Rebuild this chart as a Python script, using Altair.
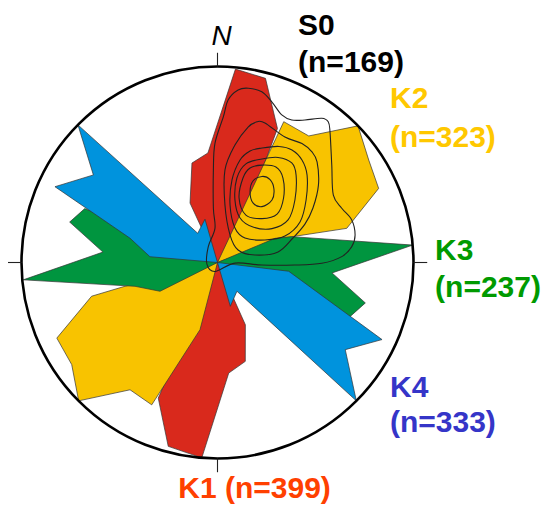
import math
import altair as alt
import pandas as pd

# ---- Rose petals: azimuth (deg, clockwise from N) and relative length (1 = circle) ----
# r = 0 entries close a lobe at the centre
K1_AZ = [0, 335.2, 345.6, 355.0, 5.3, 14.6, 24.1, 30.0, 0, 155.9, 164.3, 174.2, 184.6, 195.0, 203.6, 0]
K1_R  = [0, 0.334, 0.524, 0.561, 0.991, 0.971, 0.749, 0.30, 0, 0.348, 0.524, 0.567, 1.0, 0.971, 0.755, 0]

K2_AZ = [0, 25.2, 35.8, 45.8, 55.9, 65.3, 75.2, 70.0, 0, 194.6, 204.8, 214.5, 225.1, 235.0, 244.8, 255.0, 255.6, 0]
K2_R  = [0, 0.794, 0.796, 1.0, 0.932, 0.905, 0.682, 0.37, 0, 0.354, 0.80, 0.788, 1.0, 0.908, 0.906, 0.665, 0.487, 0]

K3_AZ = [0, 67.2, 70.8, 84.9, 95.2, 105.3, 112.1, 0, 243.4, 253.9, 264.9, 275.2, 285.3, 292.1, 0]
K3_R  = [0, 0.318, 0.401, 1.0, 0.587, 0.782, 0.731, 0, 0.328, 0.438, 0.995, 0.587, 0.782, 0.731, 0]

K4_AZ = [0, 97.0, 115.1, 124.3, 134.9, 145.9, 163.7, 0, 274.9, 285.5, 295.0, 305.2, 314.6, 325.9, 343.9, 0]
K4_R  = [0, 0.366, 0.927, 0.789, 1.0, 0.177, 0.233, 0, 0.346, 0.463, 0.915, 0.775, 1.0, 0.18, 0.23, 0]

SETS = ["K1", "K2", "K3", "K4"]
FILLS = ["#D9291C", "#F8C300", "#00953F", "#0093DD"]

# ---- S0 pole-density contours (stereonet x, y; radius = 1) ----
S0_C1 = [(.227, .439), (.268, .423), (.288, .375), (.278, .319), (.227, .285), (.181, .304), (.166, .361), (.181, .416)]
S0_C2 = [(.227, .497), (.298, .487), (.334, .431), (.337, .329), (.304, .247), (.227, .224), (.145, .242), (.110, .329),
         (.130, .431), (.166, .482)]
S0_C3 = [(.227, .528), (.309, .536), (.379, .508), (.401, .446), (.395, .319), (.360, .217), (.278, .173), (.181, .181),
         (.115, .227), (.089, .319), (.099, .431), (.145, .503)]
S0_C4 = [(.227, .584), (.314, .592), (.380, .574), (.431, .523), (.457, .446), (.452, .319), (.421, .207), (.344, .135),
         (.242, .115), (.140, .125), (.089, .176), (.064, .293), (.074, .421), (.115, .523), (.166, .569)]
S0_C5 = [(.156, .691), (.202, .718), (.242, .712), (.344, .640), (.431, .607), (.482, .564), (.508, .513), (.515, .395),
         (.487, .278), (.446, .196), (.385, .125), (.309, .054), (.191, .038), (.105, .064), (.064, .140), (.038, .293),
         (.038, .472), (.089, .599)]
S0_C6 = [(.054, .829), (.105, .880), (.157, .889), (.226, .871), (.277, .820), (.328, .753), (.379, .727), (.446, .727),
         (.532, .736), (.565, .718), (.574, .667), (.583, .497), (.591, .344), (.634, .277), (.685, .217), (.702, .140),
         (.685, .081), (.634, .030), (.532, -.004), (.395, -.013), (.226, -.013), (.089, -.003), (-.013, -.046),
         (-.054, -.008), (-.047, .081), (-.013, .174), (-.021, .277), (-.021, .472), (-.013, .608), (.030, .744)]
CONTOURS = [S0_C1, S0_C2, S0_C3, S0_C4, S0_C5, S0_C6]

# ---- compass ticks ----
TICK_AZ = [0, 90, 180, 270]

# ---- labels ----
LABEL_TEXT = ["S0", "(n=169)", "K2", "(n=323)", "K3", "(n=237)", "K4", "(n=333)", "K1 (n=399)"]
LABEL_COLOR = ["#000000", "#000000", "#FFC800", "#FFC800", "#009A00", "#009A00", "#3535C8", "#3535C8", "#FF4000"]
LABEL_X = [0.411, 0.411, 0.880, 0.880, 1.110, 1.110, 0.880, 0.880, -0.200]
LABEL_Y = [1.161, 0.970, 0.787, 0.591, 0.013, -0.174, -0.685, -0.865, -1.2015]

R_PX = 196
PROJ = dict(type="identity", reflectY=True, scale=R_PX, translate=[209.5, 254.5])


def to_xy(az, r):
    a = math.radians(az)
    return [r * math.sin(a), r * math.cos(a)]


def petal_feature(name, azs, rs):
    ring = [to_xy(a, r) for a, r in zip(azs, rs)]
    if ring[0] != ring[-1]:
        ring.append(ring[0])
    return {"type": "Feature", "properties": {"name": name},
            "geometry": {"type": "Polygon", "coordinates": [ring]}}


layers = []
for name, azs, rs, col in zip(SETS, [K1_AZ, K2_AZ, K3_AZ, K4_AZ], [K1_R, K2_R, K3_R, K4_R], FILLS):
    feat = petal_feature(name, azs, rs)
    layers.append(
        alt.Chart(alt.Data(values=[feat]))
        .mark_geoshape(fill=col, stroke="#333333", strokeWidth=0.7)
        .project(**PROJ)
    )

rows = []
for ci, pts in enumerate(CONTOURS):
    for i, (x, y) in enumerate(pts):
        rows.append({"ring": ci, "i": i, "x": x, "y": y})
cont_df = pd.DataFrame(rows)
contours = (
    alt.Chart(cont_df)
    .mark_line(interpolate="cardinal-closed", color="#222222", strokeWidth=1.1)
    .encode(longitude="x:Q", latitude="y:Q", detail="ring:N", order="i:Q")
    .project(**PROJ)
)
layers.append(contours)

circle = (
    alt.Chart(pd.DataFrame({"x": [0.0], "y": [0.0]}))
    .mark_point(shape="circle", size=(2 * R_PX) ** 2, filled=False, stroke="black",
                strokeWidth=2.6, opacity=1)
    .encode(longitude="x:Q", latitude="y:Q")
    .project(**PROJ)
)
layers.append(circle)

tick_df = pd.DataFrame({
    "x1": [to_xy(a, 1.0)[0] for a in TICK_AZ], "y1": [to_xy(a, 1.0)[1] for a in TICK_AZ],
    "x2": [to_xy(a, 1.07)[0] for a in TICK_AZ], "y2": [to_xy(a, 1.07)[1] for a in TICK_AZ],
})
ticks = (
    alt.Chart(tick_df)
    .mark_rule(color="#222222", strokeWidth=1.1)
    .encode(longitude="x1:Q", latitude="y1:Q", longitude2="x2", latitude2="y2")
    .project(**PROJ)
)
layers.append(ticks)

lab_df = pd.DataFrame({"t": LABEL_TEXT, "c": LABEL_COLOR, "x": LABEL_X, "y": LABEL_Y})
labels = (
    alt.Chart(lab_df)
    .mark_text(align="left", baseline="alphabetic", font="Liberation Sans", fontWeight="bold", fontSize=30)
    .encode(longitude="x:Q", latitude="y:Q", text="t:N", color=alt.Color("c:N", scale=None))
    .project(**PROJ)
)
layers.append(labels)

north = (
    alt.Chart(pd.DataFrame({"t": ["N"], "x": [-0.030], "y": [1.110]}))
    .mark_text(align="left", baseline="alphabetic", font="Liberation Sans", fontStyle="italic",
               fontSize=28, color="black")
    .encode(longitude="x:Q", latitude="y:Q", text="t:N")
    .project(**PROJ)
)
layers.append(north)

chart = (
    alt.layer(*layers)
    .properties(width=540, height=496, autosize=alt.AutoSizeParams(type="none"), padding=0)
    .configure_view(stroke=None)
)

chart.save("out.html", embed_options={"renderer": "svg", "actions": False})
